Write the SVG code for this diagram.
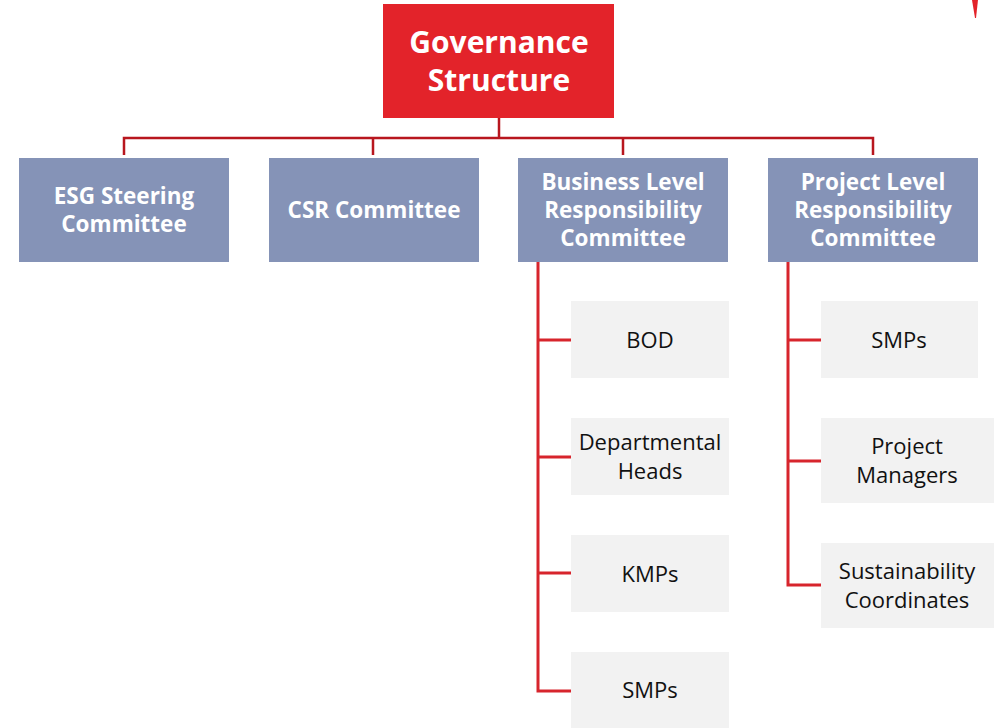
<svg xmlns="http://www.w3.org/2000/svg" width="997" height="728" viewBox="0 0 997 728">
<style>
.top{fill:#E3232A}
.com{fill:#8593B7}
.sub{fill:#F2F2F2}
.tt{font-family:"Open Sans","Noto Sans","Liberation Sans",sans-serif;font-weight:bold;fill:#fff;text-anchor:middle}
.ct{font-family:"Open Sans","Noto Sans","Liberation Sans",sans-serif;font-weight:bold;fill:#fff;text-anchor:middle;font-size:22.5px}
.st{font-family:"Open Sans","Noto Sans","Liberation Sans",sans-serif;fill:#111;text-anchor:middle;font-size:22px}
.c1{fill:none;stroke:#B8161E;stroke-width:2.5}
.c2{fill:none;stroke:#D7252C;stroke-width:3}
</style>
<rect width="997" height="728" fill="#fff"/>
<polygon points="972,0 978,0 976,18 975,18" fill="#E3232A"/>
<g id="connectors">
<path class="c1" d="M499,118V138M124,155V138H873V155M373,138V155M623,138V155"/>
<path class="c2" d="M538,262V691H571M538,340H571M538,457H571M538,573H571"/>
<path class="c2" d="M788,262V585H821M788,340H821M788,461H821"/>
</g>
<g id="governance">
<rect class="top" x="383" y="4" width="231" height="114"/>
<text class="tt" font-size="30" x="499" y="53">Governance</text>
<text class="tt" font-size="30" x="499" y="91">Structure</text>
</g>
<g id="esg">
<rect class="com" x="19" y="158" width="210" height="104"/>
<text class="ct" x="124" y="204">ESG Steering</text>
<text class="ct" x="124" y="232">Committee</text>
</g>
<g id="csr">
<rect class="com" x="269" y="158" width="210" height="104"/>
<text class="ct" x="374" y="218">CSR Committee</text>
</g>
<g id="business">
<rect class="com" x="518" y="158" width="210" height="104"/>
<text class="ct" x="623" y="190">Business Level</text>
<text class="ct" x="623" y="218">Responsibility</text>
<text class="ct" x="623" y="246">Committee</text>
</g>
<g id="project">
<rect class="com" x="768" y="158" width="210" height="104"/>
<text class="ct" x="873" y="190">Project Level</text>
<text class="ct" x="873" y="218">Responsibility</text>
<text class="ct" x="873" y="246">Committee</text>
</g>
<g id="bod">
<rect class="sub" x="571" y="301" width="158" height="77"/>
<text class="st" x="650" y="348">BOD</text>
</g>
<g id="depthead">
<rect class="sub" x="571" y="418" width="158" height="77"/>
<text class="st" x="650" y="450">Departmental</text>
<text class="st" x="650" y="479">Heads</text>
</g>
<g id="kmps">
<rect class="sub" x="571" y="535" width="158" height="77"/>
<text class="st" x="650" y="582">KMPs</text>
</g>
<g id="smps-b">
<rect class="sub" x="571" y="652" width="158" height="76"/>
<text class="st" x="650" y="698">SMPs</text>
</g>
<g id="smps-p">
<rect class="sub" x="821" y="301" width="157" height="77"/>
<text class="st" x="899" y="348">SMPs</text>
</g>
<g id="pm">
<rect class="sub" x="821" y="418" width="173" height="85"/>
<text class="st" x="907" y="454">Project</text>
<text class="st" x="907" y="483">Managers</text>
</g>
<g id="sc">
<rect class="sub" x="821" y="543" width="173" height="85"/>
<text class="st" x="907" y="579">Sustainability</text>
<text class="st" x="907" y="608">Coordinates</text>
</g>
</svg>
